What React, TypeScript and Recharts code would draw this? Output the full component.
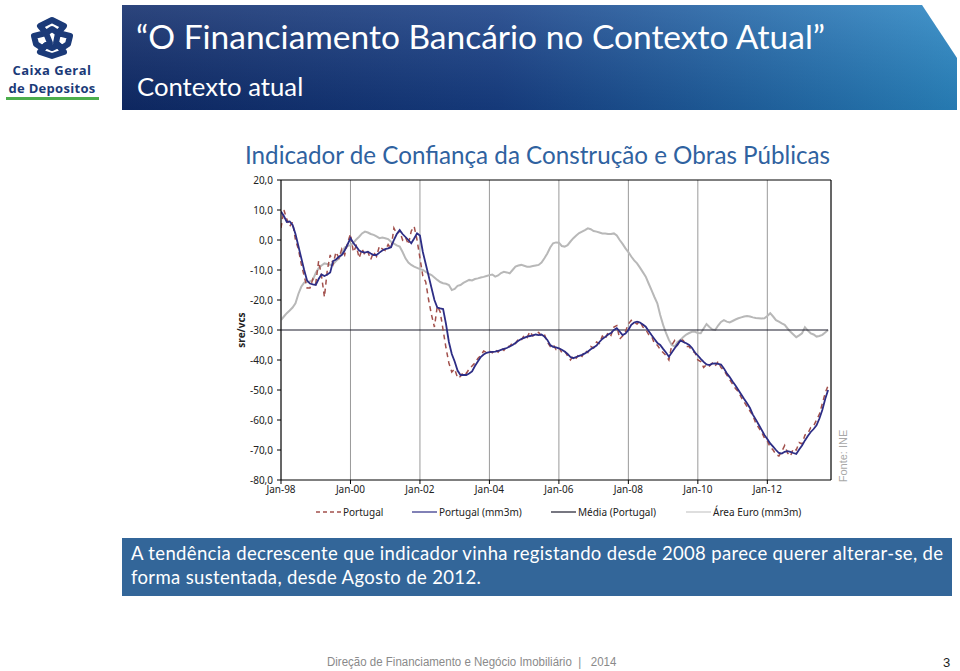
import React from 'react';
import { LineChart, Line, XAxis, YAxis, CartesianGrid, ReferenceLine } from 'recharts';

// Monthly values, Jan-1998 .. Oct-2013
const portugal: number[] = [
  4, 10, 7, 4.5, 6, 0, -3, -8, -12, -16, -16, -13,
  -14.5, -7, -12, -19, -10, -5, -8, -4, -6, -3, -5, -1,
  2, -4, -2, -6, -3, -5, -4, -6.5, -4, -5.5, -2, -3,
  -3.5, -1.5, -3, 4, 2, 3, 0, 1, -1.5, 3, 4.5, 0,
  -6, -12, -14, -20, -25, -29, -22, -24, -30, -36, -41, -44,
  -43, -46, -45.5, -44, -44.5, -43, -42, -41, -39.5, -38.5, -37, -37.5,
  -37, -37.6, -36.5, -37.4, -36, -36.8, -35.4, -35.5, -34.2, -34.5, -33, -33.4,
  -31.8, -32.5, -30.5, -32, -31.2, -30.8, -32, -31.5, -34, -35.5, -34.8, -36.5,
  -35.8, -37.5, -37, -38.6, -40, -38.5, -39.4, -38, -38.8, -36.8, -37.5, -35.5,
  -36, -34, -34.5, -32, -33, -30.8, -31.8, -29, -28.5, -33, -32, -30.5,
  -28, -26.8, -27.5, -28, -27, -29, -29.8, -31.5, -32, -34.5, -35, -36.5,
  -37.5, -38.5, -40, -35, -33.5, -35, -33, -33.5, -35.5, -35.5, -37, -37.5,
  -40, -40.5, -42.5, -41.5, -42, -41, -42, -40.5, -42.5, -43.5, -45, -46.5,
  -48, -49.5, -50.5, -52.5, -54, -55.5, -57, -58.5, -61, -62.5, -64, -66,
  -67, -69, -70, -71.5, -72, -70.5, -68.5, -71, -72, -69.5, -70, -67.5,
  -68, -65, -64.5, -62.5, -62, -60, -58, -54.5, -51, -48.5,
];

const portugalMm3m: number[] = [
  9.5, 8, 6, 6.2, 5, 2, -2, -6, -10, -13.5, -14.5, -14.8,
  -15, -13, -11.5, -12, -11.5, -10.8, -7, -6.5, -5.6, -5, -3.5, -1.5,
  0.6, -1, -2.2, -3.5, -4, -4.2, -3.9, -4.5, -5, -5, -4.2, -3.5,
  -3, -2.8, -2.4, 0, 2, 3.3, 2, 1, 0, -1.1, 0.5, 2.2,
  1.5, -4, -8, -12, -16, -20, -22.5, -22.8, -23, -28, -34, -38,
  -40.5, -43.5, -45, -45, -45, -44.5, -43.8, -42, -40.5, -39, -38.2, -37.6,
  -37.4, -37.3, -37.2, -37, -36.6, -36.3, -36, -35.5, -35, -34.3, -33.6, -33,
  -32.6, -32.2, -32, -31.8, -31.5, -31.7, -31.5, -32.2, -33.3, -35, -35.6, -35.8,
  -36.1, -36.6, -37.2, -38, -39, -39.4, -39, -38.6, -38.3, -37.8, -37.2, -36.4,
  -35.8, -35.2, -34, -33, -32.3, -31.5, -31, -30, -29.4, -30.5, -31.7, -31.2,
  -30, -28.3, -27.5, -27.2, -27.5, -28.2, -28.9, -30.3, -31.7, -33, -34.3, -35,
  -36.3, -37.5, -38.9, -37.5, -36.1, -34.8, -33.5, -34, -34.4, -35, -36, -37.5,
  -38.5, -39.6, -40.6, -41.5, -41.7, -41.2, -41.1, -41.3, -41.5, -42.8, -44.4, -45.7,
  -47.2, -48.5, -50, -51.5, -53, -54.4, -56, -58.2, -59.8, -61.5, -63.2, -65,
  -66.3, -67.8, -68.9, -70, -71, -71.2, -70.6, -70.4, -70.6, -71, -71.3, -69.8,
  -68.5, -66.8, -65.3, -64, -63, -61.8, -59.5, -56.7, -53, -50,
];

const areaEuroMm3m: number[] = [
  -26.7, -25.5, -24.4, -23.5, -22.5, -21.1, -18, -15.6, -14.2, -13.9, -13.8, -13.3,
  -11, -9.4, -8.5, -7.8, -8, -8.3, -8, -7, -6.1, -4.5, -2.5, -2,
  -1.7, -1, 0.2, 1.1, 2.2, 2.8, 2.5, 2, 1.7, 1.2, 0.6, 0.8,
  0.6, 0.3, -0.6, -1.2, -1.8, -2.2, -4, -6.1, -7.5, -8.3, -8.9, -9.3,
  -9.7, -10, -10.6, -11.2, -11.7, -12.5, -13.3, -14, -14.4, -14.6, -15, -16.7,
  -16.3, -15.3, -15, -14.3, -13.8, -13.3, -13.5, -13, -12.8, -12.5, -12.3, -12,
  -11.7, -11.5, -12.2, -11.8, -11, -10.6, -10.8, -11.1, -10, -8.9, -8.5, -8.3,
  -8.6, -8.9, -8.9, -8.7, -8.5, -8.3, -7.5, -6.1, -4.5, -2.5, -1.1, -0.8,
  -0.9, -2, -2.2, -1.7, -0.5, 0.6, 1.5, 2.3, 2.8, 3.3, 3.9, 3.6,
  3, 2.8, 2.5, 2.2, 2.2, 2, 2, 2.2, 1.5, 0, -1.3, -2.8,
  -4, -5.5, -6.8, -7.8, -9.2, -10.7, -12.2, -14.5, -16.7, -19, -21.1, -25,
  -28.3, -31, -33.3, -35, -35.5, -34, -33.3, -32.3, -31.5, -31, -30.6, -30.6,
  -31, -31.1, -29.5, -28, -29, -29.8, -30, -28.5, -27.3, -26.7, -27.2, -27.5,
  -27, -26.5, -26.1, -25.8, -25.5, -25.3, -25.5, -25.8, -26, -26.1, -26.2, -26.1,
  -25.3, -24.4, -25.5, -26.7, -27.2, -27.8, -28.3, -29.5, -30.6, -31.5, -32.4, -31.8,
  -31.1, -29.1, -30.2, -31.1, -31.5, -32.2, -32, -31.6, -30.8, -30,
];

const mediaPortugal = -30;

const xTickMonths: number[] = [0, 24, 48, 72, 96, 120, 144, 168];
const xTickLabels: string[] = ['Jan-98', 'Jan-00', 'Jan-02', 'Jan-04', 'Jan-06', 'Jan-08', 'Jan-10', 'Jan-12'];
const yTicks: number[] = [20, 10, 0, -10, -20, -30, -40, -50, -60, -70, -80];

const seriesNames = ['Portugal', 'Portugal (mm3m)', 'Média (Portugal)', 'Área Euro (mm3m)'];

const data = portugal.map((v, i) => ({
  m: i,
  portugal: v,
  mm3m: portugalMm3m[i],
  euro: areaEuroMm3m[i],
  media: mediaPortugal,
}));

const C_DASH = '#a2504c';
const C_NAVY = '#2d2d85';
const C_MEDIA = '#1c1c2c';
const C_EURO = '#b8b8b8';

const tickFont = { fontFamily: 'Noto Sans, DejaVu Sans, sans-serif', fontSize: 10, fill: '#222' };

function Logo() {
  return (
    <svg width={115} height={110} style={{ position: 'absolute', left: 0, top: 0 }}>
      <g fill="none" stroke="#1b3a78" strokeWidth={6} strokeLinejoin="round">
        <path d="M40 26 L52 20 L64 26 L58 33 L52 29 L46 33 Z" />
        <path d="M34 36 L46 33 L50 43 L42 48 L36 44 Z" />
        <path d="M70 36 L58 33 L56 43 L62 48 L68 44 Z" />
        <path d="M40 52 L52 56 L64 52 L58 45 L52 48 L46 45 Z" />
      </g>
      <text x={52} y={75} textAnchor="middle" fontFamily="Open Sans, Noto Sans, sans-serif" fontWeight={700} fontSize={13} letterSpacing={0.5} fill="#1b3a78">Caixa Geral</text>
      <text x={52} y={93} textAnchor="middle" fontFamily="Open Sans, Noto Sans, sans-serif" fontWeight={700} fontSize={13} letterSpacing={0.3} fill="#1b3a78">de Depositos</text>
      <rect x={6} y={97} width={93} height={3} fill="#4cae4c" />
    </svg>
  );
}

function Banner() {
  return (
    <svg width={960} height={115} style={{ position: 'absolute', left: 0, top: 0 }}>
      <defs>
        <linearGradient id="bg" x1="0" y1="0" x2="1" y2="0">
          <stop offset="0" stopColor="#0f2b6a" />
          <stop offset="0.45" stopColor="#173f86" />
          <stop offset="1" stopColor="#2a87c4" />
        </linearGradient>
        <linearGradient id="shade" x1="0" y1="0" x2="0" y2="1">
          <stop offset="0" stopColor="#ffffff" stopOpacity={0.12} />
          <stop offset="1" stopColor="#000000" stopOpacity={0.1} />
        </linearGradient>
      </defs>
      <polygon points="122,5 922,5 957,58 957,110 122,110" fill="url(#bg)" />
      <polygon points="122,5 922,5 957,58 957,110 122,110" fill="url(#shade)" />
      <text x={136} y={49} fontFamily="Lato, Open Sans, sans-serif" fontSize={33.5} fill="#ffffff">“O Financiamento Bancário no Contexto Atual”</text>
      <text x={137} y={96} fontFamily="Lato, Open Sans, sans-serif" fontSize={25.7} fill="#ffffff">Contexto atual</text>
    </svg>
  );
}

function LegendRow() {
  const item = (left: number, sw: React.ReactNode, label: string) => (
    <div style={{ position: 'absolute', left, top: 0, display: 'flex', alignItems: 'center', height: 16 }}>
      {sw}
      <span style={{ fontFamily: 'Noto Sans, DejaVu Sans, sans-serif', fontSize: 10, color: '#222', marginLeft: 2 }}>{label}</span>
    </div>
  );
  const lineSw = (color: string, w: number, dash?: string) => (
    <svg width={25} height={6}><line x1={0} y1={3} x2={25} y2={3} stroke={color} strokeWidth={w} strokeDasharray={dash} /></svg>
  );
  return (
    <div style={{ position: 'absolute', left: 0, top: 504, width: 960, height: 16 }}>
      {item(316, lineSw(C_DASH, 1.3, '4 3'), seriesNames[0])}
      {item(412, lineSw(C_NAVY, 1.2), seriesNames[1])}
      {item(551, lineSw(C_MEDIA, 1.2), seriesNames[2])}
      {item(686, lineSw('#c8c8c8', 1.2), seriesNames[3])}
    </div>
  );
}

export default function App() {
  return (
    <div style={{ position: 'absolute', left: 0, top: 0, width: 960, height: 671, background: '#ffffff', overflow: 'hidden' }}>
      <Logo />
      <Banner />
      <div style={{ position: 'absolute', left: 245, top: 140, fontFamily: 'Lato, Open Sans, sans-serif', fontSize: 24.2, color: '#2f62a0', whiteSpace: 'nowrap', lineHeight: '30px' }}>
        Indicador de Confiança da Construção e Obras Públicas
      </div>
      <div style={{ position: 'absolute', left: 200, top: 170 }}>
        <LineChart width={660} height={360} data={data} margin={{ top: 10, right: 29, left: 0, bottom: 20 }}>
          <CartesianGrid horizontal={false} stroke="#9a9a9a" strokeWidth={1} />
          <XAxis
            dataKey="m"
            type="number"
            domain={[0, 190]}
            ticks={xTickMonths}
            tickFormatter={(v: number) => xTickLabels[xTickMonths.indexOf(v)] ?? ''}
            tick={tickFont}
            stroke="#000"
            tickSize={4}
            tickMargin={2}
            height={30}
            allowDataOverflow
          />
          <YAxis
            type="number"
            domain={[-80, 20]}
            ticks={yTicks}
            tickFormatter={(v: number) => v.toFixed(1).replace('.', ',')}
            tick={tickFont}
            stroke="#000"
            tickSize={4}
            tickMargin={4}
            width={81}
            allowDataOverflow
          />
          <ReferenceLine y={20} stroke="#000" strokeWidth={1} />
          <ReferenceLine x={190} stroke="#000" strokeWidth={1} />
          <Line dataKey="euro" stroke={C_EURO} strokeWidth={2} dot={false} isAnimationActive={false} />
          <Line dataKey="media" stroke={C_MEDIA} strokeWidth={1.2} dot={false} isAnimationActive={false} />
          <Line dataKey="portugal" stroke={C_DASH} strokeWidth={1.5} strokeDasharray="5 4" dot={false} isAnimationActive={false} />
          <Line dataKey="mm3m" stroke={C_NAVY} strokeWidth={1.8} dot={false} isAnimationActive={false} />
        </LineChart>
      </div>
      <div style={{ position: 'absolute', left: 241, top: 330, transform: 'translate(-50%, -50%) rotate(-90deg)', fontFamily: 'Noto Sans, DejaVu Sans, sans-serif', fontSize: 10, fontWeight: 700, color: '#222', whiteSpace: 'nowrap' }}>
        sre/vcs
      </div>
      <LegendRow />
      <div style={{ position: 'absolute', left: 843, top: 456, transform: 'translate(-50%, -50%) rotate(-90deg)', fontFamily: 'Liberation Sans, Arial, sans-serif', fontSize: 11, color: '#a8a8a8', whiteSpace: 'nowrap' }}>
        Fonte: INE
      </div>
      <div style={{ position: 'absolute', left: 122, top: 538, width: 830, height: 58, background: '#336699', boxSizing: 'border-box', padding: '3px 0 0 9px', fontFamily: 'Lato, Open Sans, sans-serif', fontSize: 18.5, letterSpacing: 0.35, lineHeight: '24px', color: '#ffffff', whiteSpace: 'nowrap' }}>
        A tendência decrescente que indicador vinha registando desde 2008 parece querer alterar-se, de<br />forma sustentada, desde Agosto de 2012.
      </div>
      <div style={{ position: 'absolute', left: 327, top: 655, fontFamily: 'Liberation Sans, Arial, sans-serif', fontSize: 12.5, color: '#8a8a8a', whiteSpace: 'pre', transform: 'scaleX(0.92)', transformOrigin: 'left center' }}>
        Direção de Financiamento e Negócio Imobiliário  |   2014
      </div>
      <div style={{ position: 'absolute', left: 943, top: 655, fontFamily: 'Liberation Sans, Arial, sans-serif', fontSize: 13, color: '#222' }}>
        3
      </div>
    </div>
  );
}
